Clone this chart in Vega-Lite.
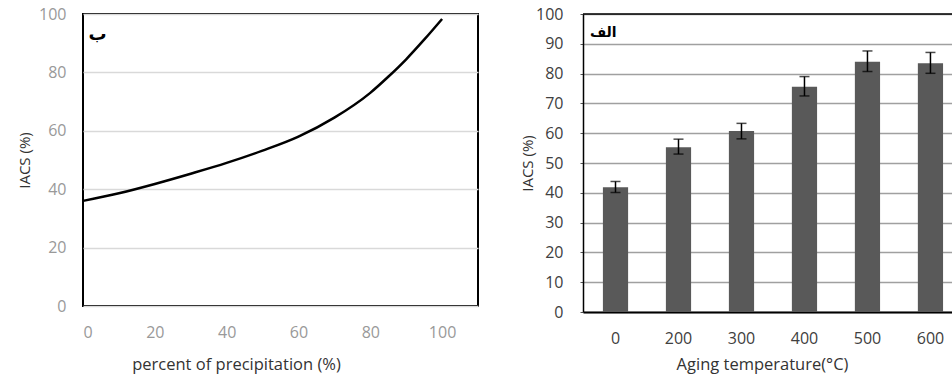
{
  "$schema": "https://vega.github.io/schema/vega-lite/v6.json",
  "padding": {"left": 16, "top": 5, "right": 0, "bottom": 0},
  "spacing": 41,
  "config": {
    "font": "Open Sans",
    "axis": {"labelFont": "Open Sans", "titleFont": "Open Sans", "titleFontWeight": "normal", "labelOverlap": false}
  },
  "datasets": {
    "curve": [
      {"p": 0, "iacs": 36}, {"p": 10, "iacs": 38.6}, {"p": 20, "iacs": 41.8},
      {"p": 30, "iacs": 45.3}, {"p": 40, "iacs": 49}, {"p": 50, "iacs": 53.2},
      {"p": 60, "iacs": 58}, {"p": 70, "iacs": 64.5}, {"p": 80, "iacs": 73},
      {"p": 85, "iacs": 78.5}, {"p": 90, "iacs": 84.5}, {"p": 95, "iacs": 91.2},
      {"p": 100, "iacs": 98.3}
    ],
    "bars": [
      {"t": "0", "iacs": 41.9, "lo": 40.1, "hi": 43.8},
      {"t": "200", "iacs": 55.3, "lo": 53.0, "hi": 58.0},
      {"t": "300", "iacs": 60.7, "lo": 58.1, "hi": 63.3},
      {"t": "400", "iacs": 75.6, "lo": 72.5, "hi": 79.0},
      {"t": "500", "iacs": 84.0, "lo": 80.7, "hi": 87.6},
      {"t": "600", "iacs": 83.5, "lo": 80.1, "hi": 87.1}
    ],
    "tagB": [{"p": 1.5, "iacs": 92.8, "label": "ب"}],
    "tagA": [{"t": "0", "iacs": 93.6, "label": "الف"}]
  },
  "hconcat": [
    {
      "width": 395,
      "height": 292,
      "view": {"stroke": "#000000", "strokeWidth": 2},
      "layer": [
        {
          "data": {"name": "curve"},
          "mark": {"type": "line", "color": "#000000", "strokeWidth": 2.5, "interpolate": "monotone"},
          "encoding": {
            "x": {
              "field": "p", "type": "quantitative",
              "scale": {"domain": [0, 110], "nice": false},
              "axis": {
                "values": [0, 20, 40, 60, 80, 100], "grid": false, "tickSize": 0, "domain": false,
                "labelPadding": 18, "labelColor": "#999999", "labelFontSize": 16,
                "title": "percent of precipitation (%)", "titleFontSize": 16.5, "titleColor": "#333333",
                "titlePadding": 16, "titleX": 153, "titleAlign": "center"
              }
            },
            "y": {
              "field": "iacs", "type": "quantitative",
              "scale": {"domain": [0, 100], "nice": false},
              "axis": {
                "values": [0, 20, 40, 60, 80, 100], "grid": true, "gridColor": "#d9d9d9", "gridWidth": 1.5,
                "tickSize": 0, "domain": false, "labelPadding": 17, "labelColor": "#999999", "labelFontSize": 16,
                "title": "IACS (%)", "titleFontSize": 15, "titleColor": "#333333", "titlePadding": 6
              }
            }
          }
        },
        {
          "data": {"name": "tagB"},
          "mark": {"type": "text", "font": "DejaVu Sans", "fontWeight": "bold", "fontSize": 18, "align": "left", "baseline": "middle", "color": "#000000"},
          "encoding": {
            "x": {"field": "p", "type": "quantitative"},
            "y": {"field": "iacs", "type": "quantitative"},
            "text": {"field": "label"}
          }
        }
      ]
    },
    {
      "width": 369,
      "height": 298,
      "view": {"stroke": null},
      "layer": [
        {
          "data": {"name": "bars"},
          "mark": {"type": "bar", "color": "#595959"},
          "encoding": {
            "x": {
              "field": "t", "type": "nominal", "sort": null,
              "scale": {"paddingInner": 0.6, "paddingOuter": 0.229, "align": 0.69},
              "axis": {
                "labelAngle": 0, "tickSize": 0, "domain": true, "domainColor": "#000000", "domainWidth": 2,
                "labelPadding": 18, "labelColor": "#404040", "labelFontSize": 16,
                "title": "Aging temperature(°C)", "titleFontSize": 16.5, "titleColor": "#333333",
                "titlePadding": 10, "titleX": 179, "titleAlign": "center"
              }
            },
            "y": {
              "field": "iacs", "type": "quantitative",
              "scale": {"domain": [0, 100], "nice": false},
              "axis": {
                "values": [0, 10, 20, 30, 40, 50, 60, 70, 80, 90, 100], "grid": true, "gridColor": "#a0a0a0", "gridWidth": 1.3,
                "tickSize": 3, "tickColor": "#555555", "domain": true, "domainColor": "#000000", "domainWidth": 1.5,
                "labelPadding": 17, "labelColor": "#404040", "labelFontSize": 16, "labelOverlap": false,
                "title": "IACS (%)", "titleFontSize": 15, "titleColor": "#333333", "titlePadding": 0
              }
            }
          }
        },
        {
          "data": {"name": "bars"},
          "mark": {"type": "rule", "color": "#000000", "strokeWidth": 1.5},
          "encoding": {
            "x": {"field": "t", "type": "nominal", "sort": null},
            "y": {
              "field": "lo", "type": "quantitative",
              "axis": {
                "values": [0, 10, 20, 30, 40, 50, 60, 70, 80, 90, 100], "grid": true, "gridColor": "#a0a0a0", "gridWidth": 1.3,
                "tickSize": 3, "tickColor": "#555555", "domain": true, "domainColor": "#000000", "domainWidth": 1.5,
                "labelPadding": 17, "labelColor": "#404040", "labelFontSize": 16, "labelOverlap": false,
                "title": "IACS (%)", "titleFontSize": 15, "titleColor": "#333333", "titlePadding": 0
              }
            },
            "y2": {"field": "hi"}
          }
        },
        {
          "data": {"name": "bars"},
          "mark": {"type": "tick", "color": "#000000", "thickness": 1.5, "size": 10, "orient": "horizontal"},
          "encoding": {
            "x": {"field": "t", "type": "nominal", "sort": null},
            "y": {
              "field": "lo", "type": "quantitative",
              "axis": {
                "values": [0, 10, 20, 30, 40, 50, 60, 70, 80, 90, 100], "grid": true, "gridColor": "#a0a0a0", "gridWidth": 1.3,
                "tickSize": 3, "tickColor": "#555555", "domain": true, "domainColor": "#000000", "domainWidth": 1.5,
                "labelPadding": 17, "labelColor": "#404040", "labelFontSize": 16, "labelOverlap": false,
                "title": "IACS (%)", "titleFontSize": 15, "titleColor": "#333333", "titlePadding": 0
              }
            }
          }
        },
        {
          "data": {"name": "bars"},
          "mark": {"type": "tick", "color": "#000000", "thickness": 1.5, "size": 10, "orient": "horizontal"},
          "encoding": {
            "x": {"field": "t", "type": "nominal", "sort": null},
            "y": {
              "field": "hi", "type": "quantitative",
              "axis": {
                "values": [0, 10, 20, 30, 40, 50, 60, 70, 80, 90, 100], "grid": true, "gridColor": "#a0a0a0", "gridWidth": 1.3,
                "tickSize": 3, "tickColor": "#555555", "domain": true, "domainColor": "#000000", "domainWidth": 1.5,
                "labelPadding": 17, "labelColor": "#404040", "labelFontSize": 16, "labelOverlap": false,
                "title": "IACS (%)", "titleFontSize": 15, "titleColor": "#333333", "titlePadding": 0
              }
            }
          }
        },
        {
          "data": {"values": [{"top": 100}]},
          "mark": {"type": "rule", "color": "#000000", "strokeWidth": 1.5},
          "encoding": {
            "y": {
              "field": "top", "type": "quantitative",
              "axis": {
                "values": [0, 10, 20, 30, 40, 50, 60, 70, 80, 90, 100], "grid": true, "gridColor": "#a0a0a0", "gridWidth": 1.3,
                "tickSize": 3, "tickColor": "#555555", "domain": true, "domainColor": "#000000", "domainWidth": 1.5,
                "labelPadding": 17, "labelColor": "#404040", "labelFontSize": 16, "labelOverlap": false,
                "title": "IACS (%)", "titleFontSize": 15, "titleColor": "#333333", "titlePadding": 0
              }
            }
          }
        },
        {
          "data": {"name": "tagA"},
          "mark": {"type": "text", "font": "DejaVu Sans", "fontWeight": "bold", "fontSize": 14, "align": "left", "baseline": "middle", "dx": -13, "color": "#000000"},
          "encoding": {
            "x": {"field": "t", "type": "nominal", "sort": null, "bandPosition": 0},
            "y": {
              "field": "iacs", "type": "quantitative",
              "axis": {
                "values": [0, 10, 20, 30, 40, 50, 60, 70, 80, 90, 100], "grid": true, "gridColor": "#a0a0a0", "gridWidth": 1.3,
                "tickSize": 3, "tickColor": "#555555", "domain": true, "domainColor": "#000000", "domainWidth": 1.5,
                "labelPadding": 17, "labelColor": "#404040", "labelFontSize": 16, "labelOverlap": false,
                "title": "IACS (%)", "titleFontSize": 15, "titleColor": "#333333", "titlePadding": 0
              }
            },
            "text": {"field": "label"}
          }
        }
      ]
    }
  ]
}
